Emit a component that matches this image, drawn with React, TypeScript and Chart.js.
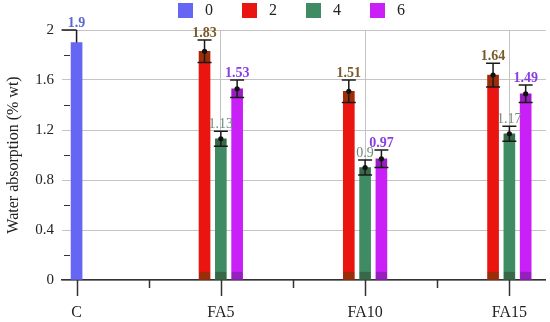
import React, { useEffect, useRef } from "react";
import { Chart, registerables } from "chart.js";

Chart.register(...registerables);

const categories = ["C", "FA5", "FA10", "FA15"];
const seriesNames = ["0", "2", "4", "6"];
const values0 = [1.9, null, null, null];
const values2 = [null, 1.83, 1.51, 1.64];
const values4 = [null, 1.13, 0.9, 1.17];
const values6 = [null, 1.53, 0.97, 1.49];
const errors0 = [0.1, null, null, null];
const errors2 = [null, 0.09, 0.09, 0.095];
const errors4 = [null, 0.06, 0.06, 0.06];
const errors6 = [null, 0.07, 0.07, 0.07];
const yTickValues = [0, 0.4, 0.8, 1.2, 1.6, 2];

const seriesValues = [values0, values2, values4, values6];
const seriesErrors = [errors0, errors2, errors4, errors6];
const barColors = ["#6666f5", "#ea1410", "#3f8b63", "#c820f6"];
const labelColors = ["#5a68d0", "#7a5a2a", "#6e8a78", "#8a3ee6"];
const labelWeights = ["bold", "bold", "normal", "bold"];
const overlayColors = ["rgba(0,0,0,0)", "rgba(80,70,0,0.5)", "rgba(40,40,20,0.35)", "rgba(60,30,90,0.35)"];
const seriesOffsets = [0, -0.113, 0, 0.113];
const FONT = "'Liberation Serif', 'DejaVu Serif', serif";

const decorPlugin = {
  id: "decor",
  afterDraw(chart: any) {
    const ctx = chart.ctx;
    const xs = chart.scales.x;
    const ys = chart.scales.y;
    const area = chart.chartArea;
    ctx.save();
    ctx.strokeStyle = "#333";
    ctx.lineWidth = 1.5;
    for (let v = 0; v <= categories.length - 1 + 0.001; v += 0.5) {
      const px = Math.round(xs.getPixelForValue(v)) + 0.5;
      const len = Math.abs(v - Math.round(v)) < 0.01 ? 16 : 8;
      ctx.beginPath();
      ctx.moveTo(px, area.bottom);
      ctx.lineTo(px, area.bottom + len);
      ctx.stroke();
    }
    ctx.lineWidth = 1;
    for (let i = 0; i < yTickValues.length - 1; i++) {
      const v = (yTickValues[i] + yTickValues[i + 1]) / 2;
      const py = Math.round(ys.getPixelForValue(v)) + 0.5;
      ctx.beginPath();
      ctx.moveTo(area.left + 2, py);
      ctx.lineTo(area.left + 8, py);
      ctx.stroke();
    }
    ctx.font = `16px ${FONT}`;
    ctx.textBaseline = "middle";
    ctx.textAlign = "left";
    let lx = 178;
    seriesNames.forEach((name, i) => {
      ctx.fillStyle = barColors[i];
      ctx.fillRect(lx, 3, 15, 15);
      ctx.fillStyle = "#222";
      ctx.fillText(name, lx + 27, 11);
      lx += 27 + ctx.measureText(name).width + 29;
    });
    ctx.restore();
  },
  afterDatasetsDraw(chart: any) {
    const ctx = chart.ctx;
    const ys = chart.scales.y;
    ctx.save();
    chart.data.datasets.forEach((ds: any, di: number) => {
      const meta = chart.getDatasetMeta(di);
      meta.data.forEach((bar: any, j: number) => {
        const raw = ds.data[j];
        const w = bar.width;
        const x = bar.x;
        const yv = ys.getPixelForValue(raw.y);
        const yTop = ys.getPixelForValue(raw.y + raw.err);
        const yBot = ys.getPixelForValue(raw.y - raw.err);
        if (di > 0) {
          ctx.fillStyle = overlayColors[di];
          ctx.fillRect(x - w / 2, yv, w, yBot - yv);
          const y0 = ys.getPixelForValue(0);
          const yb = ys.getPixelForValue(0.065);
          ctx.fillRect(x - w / 2, yb, w, y0 - yb);
        }
        ctx.strokeStyle = "#1a1a1a";
        ctx.lineWidth = 1.5;
        const cap = 7;
        ctx.beginPath();
        ctx.moveTo(x, yTop);
        ctx.lineTo(x, di === 0 ? yv : yBot);
        ctx.moveTo(x - (di === 0 ? 15 : cap), yTop);
        ctx.lineTo(x + (di === 0 ? 0 : cap), yTop);
        if (di > 0) {
          ctx.moveTo(x - cap, yBot);
          ctx.lineTo(x + cap, yBot);
        }
        ctx.stroke();
        if (di > 0) {
          ctx.fillStyle = "#111";
          ctx.beginPath();
          ctx.arc(x, yv, 2.6, 0, Math.PI * 2);
          ctx.fill();
        }
        ctx.font = `${labelWeights[di]} 14px ${FONT}`;
        ctx.fillStyle = labelColors[di];
        ctx.textAlign = "center";
        ctx.textBaseline = "alphabetic";
        ctx.fillText(String(raw.y), x, yTop - 3);
      });
    });
    ctx.restore();
  },
};

export default function App() {
  const ref = useRef<HTMLCanvasElement>(null);
  useEffect(() => {
    document.body.style.margin = "0";
    const datasets = seriesNames.map((name, si) => ({
      label: name,
      data: seriesValues[si]
        .map((v, ci) => (v == null ? null : { x: ci + seriesOffsets[si], y: v, err: seriesErrors[si][ci] }))
        .filter((d) => d !== null),
      backgroundColor: barColors[si],
      barThickness: 11,
      grouped: false,
    }));
    const chart = new Chart(ref.current!, {
      type: "bar",
      data: { datasets: datasets as any },
      options: {
        animation: false,
        responsive: false,
        devicePixelRatio: 1,
        layout: { padding: { top: 30, left: 0, right: 0, bottom: 0 } },
        plugins: { legend: { display: false }, tooltip: { enabled: false } },
        scales: {
          x: {
            type: "linear",
            offset: false,
            min: -0.101,
            max: 3.253,
            afterFit: (s: any) => { s.height = 42; },
            afterBuildTicks: (s: any) => {
              const t = [];
              for (let v = 0; v <= categories.length - 1 + 0.001; v += 0.5) t.push({ value: v });
              s.ticks = t;
            },
            ticks: {
              autoSkip: false,
              maxRotation: 0,
              padding: 23,
              color: "#222",
              font: { family: FONT, size: 16 },
              callback: (v: any) => {
                const n = Number(v);
                return Math.abs(n - Math.round(n)) < 0.01 ? categories[Math.round(n)] : "";
              },
            },
            grid: {
              offset: false,
              drawTicks: false,
              color: (c: any) => {
                const n = c.tick ? c.tick.value : 0;
                return Math.abs(n - Math.round(n)) < 0.01 ? "#c4c4c4" : "rgba(0,0,0,0)";
              },
            },
            border: { display: true, color: "#333", width: 1.5 },
          },
          y: {
            min: 0,
            max: 2,
            afterFit: (s: any) => { s.width = 62; },
            afterBuildTicks: (s: any) => { s.ticks = yTickValues.map((v) => ({ value: v })); },
            ticks: {
              padding: 8,
              color: "#222",
              font: { family: FONT, size: 15 },
              callback: (v: any) => String(Number(v)),
            },
            grid: { drawTicks: false, color: "#c4c4c4" },
            border: { display: false },
            title: {
              display: true,
              text: "Water absorption (% wt)",
              color: "#222",
              font: { family: FONT, size: 16 },
              padding: { top: 4, bottom: 0 },
            },
          },
        },
      },
      plugins: [decorPlugin],
    });
    return () => chart.destroy();
  }, []);
  return <canvas ref={ref} width={550} height={322} style={{ display: "block" }} />;
}
